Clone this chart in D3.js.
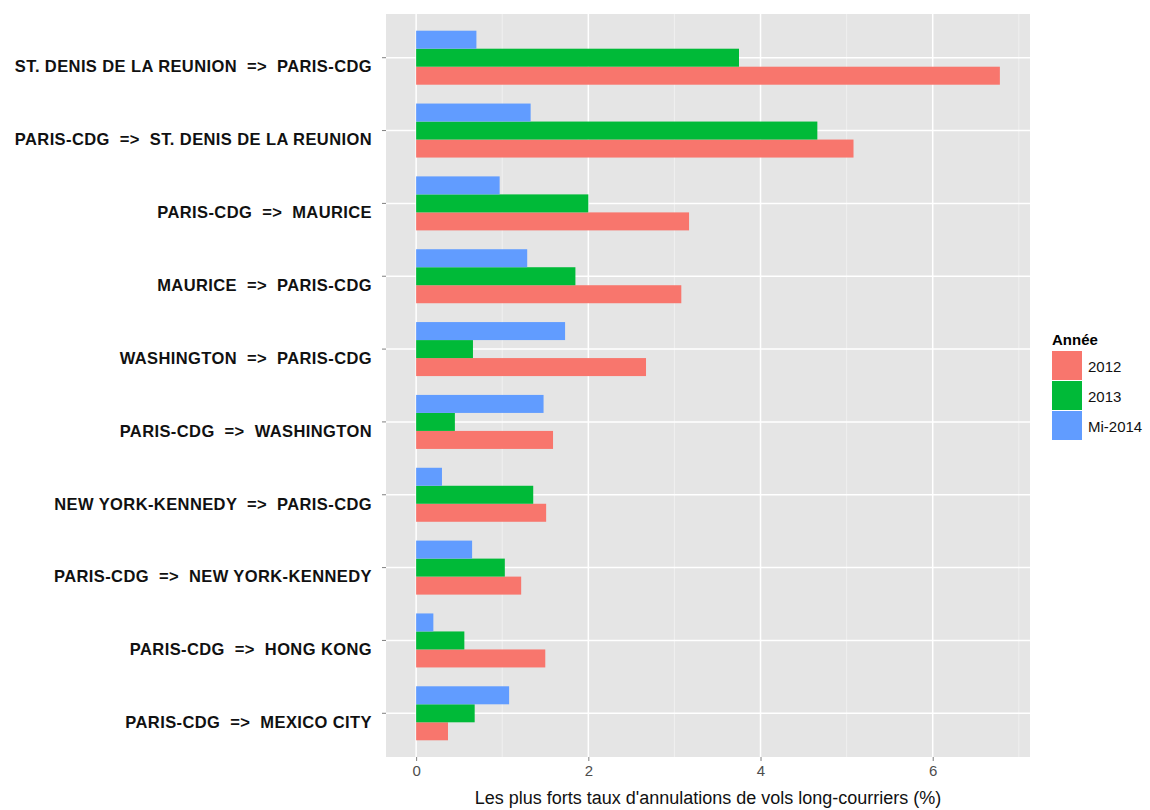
<!DOCTYPE html>
<html><head><meta charset="utf-8">
<script src="https://cdn.jsdelivr.net/npm/d3@7"></script>
<style>body{margin:0;background:#fff;font-family:"Liberation Sans",Arial,sans-serif;}</style>
</head><body><svg id="c" width="1150" height="810"></svg>
<script>
var routes = ["ST. DENIS DE LA REUNION  =>  PARIS-CDG","PARIS-CDG  =>  ST. DENIS DE LA REUNION","PARIS-CDG  =>  MAURICE","MAURICE  =>  PARIS-CDG","WASHINGTON  =>  PARIS-CDG","PARIS-CDG  =>  WASHINGTON","NEW YORK-KENNEDY  =>  PARIS-CDG","PARIS-CDG  =>  NEW YORK-KENNEDY","PARIS-CDG  =>  HONG KONG","PARIS-CDG  =>  MEXICO CITY"];
var years = ["2012","2013","Mi-2014"];
var v2012 = [6.78,5.08,3.17,3.08,2.67,1.59,1.51,1.22,1.50,0.37];
var v2013 = [3.75,4.66,2.00,1.85,0.66,0.45,1.36,1.03,0.56,0.68];
var v2014 = [0.70,1.33,0.97,1.29,1.73,1.48,0.30,0.65,0.20,1.08];
var colors = ["#F8766D","#00BA38","#619CFF"];
var series = [v2012,v2013,v2014];

var svg = d3.select("#c");
var L = 386, R = 1030, T = 14, B = 757;
var x = d3.scaleLinear().domain([-0.35,7.13]).range([L,R]);
var y = d3.scaleBand().domain(routes).range([T,B]).paddingInner(0).paddingOuter(0.1);
var sub = d3.scaleBand().domain(["Mi-2014","2013","2012"]).range([0,54]);

svg.append("rect").attr("x",L).attr("y",T).attr("width",R-L).attr("height",B-T).attr("fill","#E5E5E5");
[1,3,5,7].forEach(function(t){svg.append("line").attr("x1",x(t)).attr("x2",x(t)).attr("y1",T).attr("y2",B).attr("stroke","#F2F2F2").attr("stroke-width",0.8);});
[0,2,4,6].forEach(function(t){svg.append("line").attr("x1",x(t)).attr("x2",x(t)).attr("y1",T).attr("y2",B).attr("stroke","#fff").attr("stroke-width",1.5);});
routes.forEach(function(r){var cy=y(r)+y.bandwidth()/2;svg.append("line").attr("x1",L).attr("x2",R).attr("y1",cy).attr("y2",cy).attr("stroke","#fff").attr("stroke-width",1.5);});

series.forEach(function(vals,k){
  svg.append("g").selectAll("rect").data(vals).enter().append("rect")
    .attr("x",x(0)).attr("width",function(d){return x(d)-x(0);})
    .attr("y",function(d,i){return y(routes[i])+y.bandwidth()/2-27+sub(years[k]);})
    .attr("height",sub.bandwidth()).attr("fill",colors[k]);
});

var gx = svg.append("g").attr("transform","translate(0,"+B+")")
  .call(d3.axisBottom(x).tickValues([0,2,4,6]).tickSize(4).tickPadding(4));
gx.select(".domain").remove();
gx.selectAll("line").attr("stroke","#7F7F7F");
gx.selectAll("text").attr("font-size",15).attr("fill","#4D4D4D").attr("font-family","Liberation Sans, Arial");

var gy = svg.append("g").attr("transform","translate("+L+",0)")
  .call(d3.axisLeft(y).tickSize(4).tickPadding(10));
gy.select(".domain").remove();
gy.selectAll("line").attr("stroke","#7F7F7F");
gy.selectAll("text").attr("font-size",16.5).attr("font-weight","bold").attr("fill","#111").attr("font-family","Liberation Sans, Arial").attr("letter-spacing","0.4").style("white-space","pre").attr("y",9.5);

svg.append("text").attr("x",(L+R)/2).attr("y",804).attr("text-anchor","middle").attr("font-size",18).attr("fill","#111").text("Les plus forts taux d'annulations de vols long-courriers (%)");

var lg = svg.append("g").attr("transform","translate(1052,0)");
lg.append("text").attr("x",0).attr("y",345).attr("font-size",15).attr("font-weight","bold").text("Année");
years.forEach(function(yr,k){
  lg.append("rect").attr("x",0).attr("y",351+k*30).attr("width",30).attr("height",29).attr("fill",colors[k]);
  lg.append("text").attr("x",36).attr("y",372+k*30).attr("font-size",15).attr("fill","#111").text(yr);
});
</script></body></html>
